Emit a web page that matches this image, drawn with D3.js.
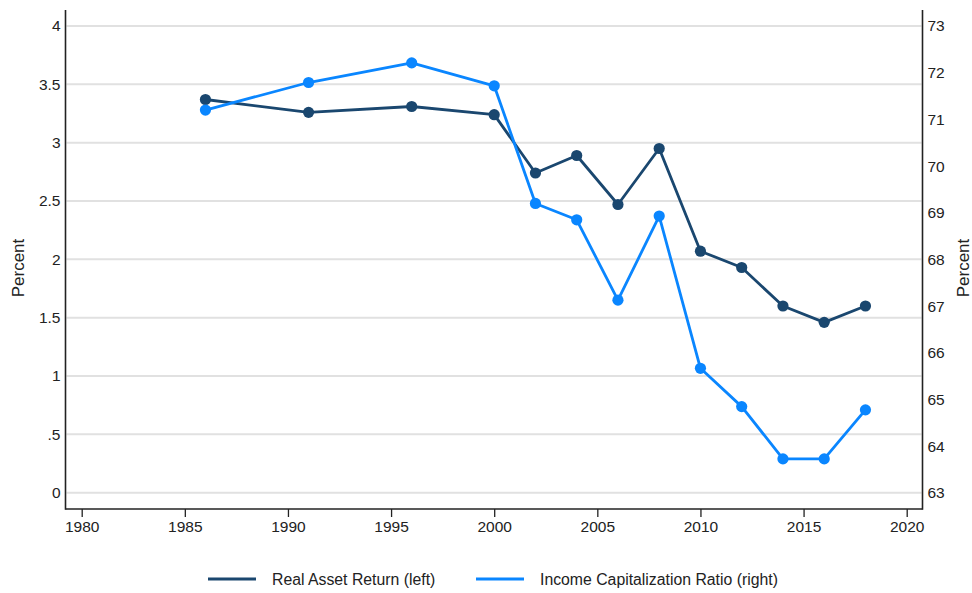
<!DOCTYPE html>
<html>
<head>
<meta charset="utf-8">
<script src="https://cdn.jsdelivr.net/npm/d3@7"></script>
<style>
  html, body { margin: 0; padding: 0; background: #fff; }
  svg { display: block; font-family: "Liberation Sans", Arial, sans-serif; }
</style>
</head>
<body>
<svg id="chart" width="972" height="593"></svg>
<script>
// Survey years
const years = [1986, 1991, 1996, 2000, 2002, 2004, 2006, 2008, 2010, 2012, 2014, 2016, 2018];
// Real asset return, percent (left axis)
const realAssetReturn = [3.37, 3.26, 3.31, 3.24, 2.74, 2.89, 2.47, 2.95, 2.07, 1.93, 1.60, 1.46, 1.60];
// Income capitalization ratio, percent (right axis)
const incomeCapRatio = [71.20, 71.79, 72.21, 71.72, 69.20, 68.85, 67.13, 68.93, 65.67, 64.85, 63.73, 63.73, 64.78];

const xTicks = [1980, 1985, 1990, 1995, 2000, 2005, 2010, 2015, 2020];
const leftTicks = [0, 0.5, 1, 1.5, 2, 2.5, 3, 3.5, 4];
const leftTickLabels = ["0", ".5", "1", "1.5", "2", "2.5", "3", "3.5", "4"];
const rightTicks = [63, 64, 65, 66, 67, 68, 69, 70, 71, 72, 73];

const seriesNames = ["Real Asset Return (left)", "Income Capitalization Ratio (right)"];
const colors = ["#1a476f", "#0a86ff"];

const svg = d3.select("#chart");
const frame = { left: 65.5, right: 922.5, top: 10, bottom: 509 };

const x = d3.scaleLinear().domain([1980, 2020]).range([81.7, 906.7]);
const yL = d3.scaleLinear().domain([0, 4]).range([492.7, 26]);
const yR = d3.scaleLinear().domain([63, 73]).range([493, 26]);

const textColor = "#222";
const tickFont = 15.5;

// horizontal grid from left axis ticks
svg.append("g")
  .selectAll("line")
  .data(leftTicks)
  .join("line")
  .attr("x1", frame.left + 1).attr("x2", frame.right - 1)
  .attr("y1", d => yL(d)).attr("y2", d => yL(d))
  .attr("stroke", "#e1e1e1").attr("stroke-width", 2);

// left axis
const leftAxis = d3.axisLeft(yL).tickValues(leftTicks)
  .tickFormat((d, i) => leftTickLabels[i]).tickSize(0).tickPadding(5);
const gL = svg.append("g").attr("transform", `translate(${frame.left},0)`).call(leftAxis);
gL.select(".domain").remove();
gL.selectAll("text").attr("font-size", tickFont).attr("fill", textColor)
  .attr("font-family", "Liberation Sans, Arial, sans-serif");

// right axis
const rightAxis = d3.axisRight(yR).tickValues(rightTicks).tickSize(0).tickPadding(5);
const gR = svg.append("g").attr("transform", `translate(${frame.right},0)`).call(rightAxis);
gR.select(".domain").remove();
gR.selectAll("text").attr("font-size", tickFont).attr("fill", textColor)
  .attr("font-family", "Liberation Sans, Arial, sans-serif");

// bottom axis
const bottomAxis = d3.axisBottom(x).tickValues(xTicks).tickFormat(d3.format("d"))
  .tickSizeInner(8).tickSizeOuter(0).tickPadding(4);
const gB = svg.append("g").attr("transform", `translate(0,${frame.bottom})`).call(bottomAxis);
gB.select(".domain").remove();
gB.selectAll("line").attr("stroke", "#222").attr("stroke-width", 1.3);
gB.selectAll("text").attr("font-size", tickFont).attr("fill", textColor)
  .attr("font-family", "Liberation Sans, Arial, sans-serif");

// frame lines (left, right, bottom)
const axisStroke = { stroke: "#222", width: 1.6 };
svg.append("line").attr("x1", frame.left).attr("x2", frame.left)
  .attr("y1", frame.top).attr("y2", frame.bottom + 0.8)
  .attr("stroke", axisStroke.stroke).attr("stroke-width", axisStroke.width);
svg.append("line").attr("x1", frame.right).attr("x2", frame.right)
  .attr("y1", frame.top).attr("y2", frame.bottom + 0.8)
  .attr("stroke", axisStroke.stroke).attr("stroke-width", axisStroke.width);
svg.append("line").attr("x1", frame.left).attr("x2", frame.right)
  .attr("y1", frame.bottom).attr("y2", frame.bottom)
  .attr("stroke", axisStroke.stroke).attr("stroke-width", axisStroke.width);

// axis titles
svg.append("text")
  .attr("transform", `translate(24,268) rotate(-90)`)
  .attr("text-anchor", "middle").attr("font-size", 17).attr("fill", textColor)
  .text("Percent");
svg.append("text")
  .attr("transform", `translate(969,268) rotate(-90)`)
  .attr("text-anchor", "middle").attr("font-size", 17).attr("fill", textColor)
  .text("Percent");

// series
function drawSeries(values, yScale, color) {
  const pts = years.map((yr, i) => [yr, values[i]]);
  const line = d3.line().x(d => x(d[0])).y(d => yScale(d[1]));
  svg.append("path").datum(pts)
    .attr("d", line).attr("fill", "none")
    .attr("stroke", color).attr("stroke-width", 2.8)
    .attr("stroke-linejoin", "round");
  svg.append("g").selectAll("circle").data(pts).join("circle")
    .attr("cx", d => x(d[0])).attr("cy", d => yScale(d[1]))
    .attr("r", 5.6).attr("fill", color);
}
drawSeries(realAssetReturn, yL, colors[0]);
drawSeries(incomeCapRatio, yR, colors[1]);

// legend
const legendItems = [
  { name: seriesNames[0], color: colors[0], x0: 208 },
  { name: seriesNames[1], color: colors[1], x0: 476 }
];
const lg = svg.append("g");
legendItems.forEach(it => {
  lg.append("line").attr("x1", it.x0).attr("x2", it.x0 + 48)
    .attr("y1", 579).attr("y2", 579)
    .attr("stroke", it.color).attr("stroke-width", 3);
  lg.append("text").attr("x", it.x0 + 64).attr("y", 584.5)
    .attr("font-size", 15.8).attr("fill", textColor)
    .text(it.name);
});
</script>
</body>
</html>
